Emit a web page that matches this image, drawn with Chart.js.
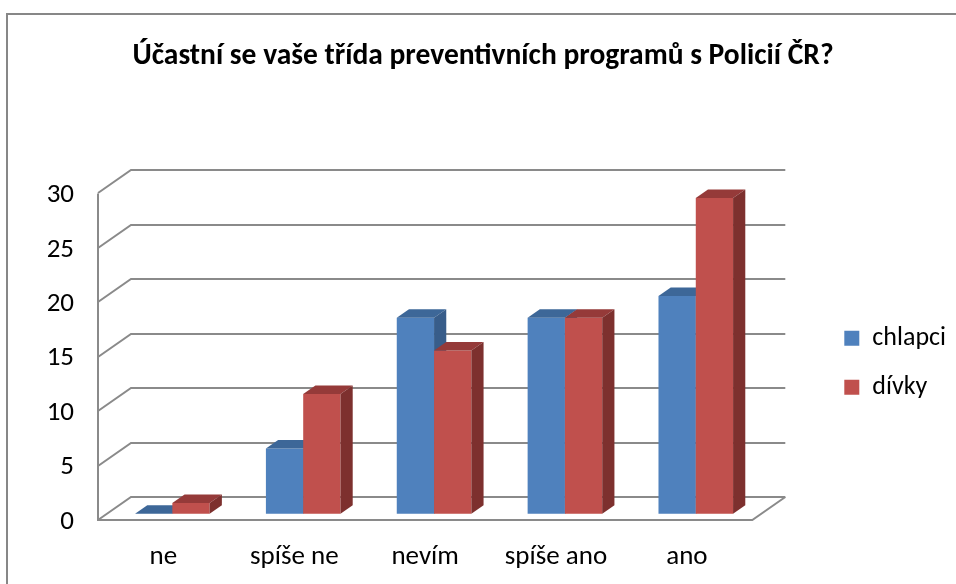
<!DOCTYPE html>
<html>
<head>
<meta charset="utf-8">
<script src="https://cdn.jsdelivr.net/npm/chart.js@4.4.0/dist/chart.umd.min.js"></script>
<style>
    html, body { margin: 0; padding: 0; background: #fff; }
</style>
</head>
<body>
<canvas id="myChart" width="956" height="584"></canvas>
<script>
    // data
    const categories = ["ne", "spíše ne", "nevím", "spíše ano", "ano"];
    const chlapci = [0, 6, 18, 18, 20];
    const divky = [1, 11, 15, 18, 29];
    const yTicks = [0, 5, 10, 15, 20, 25, 30];

    const FONT = "Carlito, Lato, sans-serif";
    const DEPTH = { x: 33, y: -23 };   // back wall offset
    const BAR_FRONT = 0.27;            // where bars start inside the depth
    const BAR_DEPTH = 0.37;
    const faces = [
        { front: "#4F81BD", top: "#3D6798", side: "#385D8A" },
        { front: "#C0504D", top: "#953A39", side: "#7D302E" },
    ];

    function poly(ctx, pts, color) {
        ctx.beginPath();
        ctx.moveTo(pts[0][0], pts[0][1]);
        for (let i = 1; i < pts.length; i++) ctx.lineTo(pts[i][0], pts[i][1]);
        ctx.closePath();
        ctx.fillStyle = color;
        ctx.fill();
    }

    // walls, floor and 3d bars
    const frame3d = {
        id: "frame3d",
        beforeDraw(chart) {
            const ctx = chart.ctx;
            ctx.save();
            ctx.fillStyle = "#fff";
            ctx.fillRect(0, 0, chart.width, chart.height);
            ctx.strokeStyle = "#878787";
            ctx.lineWidth = 2;
            ctx.strokeRect(7, 14, chart.width + 20, chart.height + 20);
            ctx.restore();
        },
        beforeDatasetsDraw(chart) {
            const ctx = chart.ctx;
            const a = chart.chartArea;
            const y = chart.scales.y;
            ctx.save();
            ctx.strokeStyle = "#8a8a8a";
            ctx.lineWidth = 2;
            yTicks.forEach(function (v) {
                const py = Math.round(y.getPixelForValue(v));
                ctx.beginPath();
                ctx.moveTo(a.left, py);
                ctx.lineTo(a.left + DEPTH.x, py + DEPTH.y);
                ctx.lineTo(a.right + DEPTH.x, py + DEPTH.y);
                ctx.stroke();
            });
            // front axis + floor
            ctx.beginPath();
            ctx.moveTo(a.left, a.top);
            ctx.lineTo(a.left, a.bottom);
            ctx.lineTo(a.right, a.bottom);
            ctx.lineTo(a.right + DEPTH.x, a.bottom + DEPTH.y);
            ctx.stroke();

            const ox = DEPTH.x * BAR_FRONT, oy = DEPTH.y * BAR_FRONT;
            const dx = DEPTH.x * BAR_DEPTH, dy = DEPTH.y * BAR_DEPTH;
            for (let i = 0; i < categories.length; i++) {
                chart.data.datasets.forEach(function (ds, d) {
                    const bar = chart.getDatasetMeta(d).data[i];
                    const c = faces[d];
                    const l = bar.x - bar.width / 2 + ox, r = bar.x + bar.width / 2 + ox;
                    const t = bar.y + oy, b = bar.base + oy;
                    poly(ctx, [[l, t], [r, t], [r, b], [l, b]], c.front);
                    poly(ctx, [[l, t], [r, t], [r + dx, t + dy], [l + dx, t + dy]], c.top);
                    poly(ctx, [[r, t], [r + dx, t + dy], [r + dx, b + dy], [r, b]], c.side);
                });
            }
            ctx.restore();
            return false;
        },
    };

    const ctx = document.getElementById("myChart");
    new Chart(ctx, {
        type: "bar",
        data: {
            labels: categories,
            datasets: [
                { label: "chlapci", data: chlapci, backgroundColor: faces[0].front },
                { label: "dívky", data: divky, backgroundColor: faces[1].front },
            ],
        },
        options: {
            responsive: false,
            animation: false,
            events: [],
            layout: {
                padding: { left: 10, top: 0, right: 0, bottom: 0 },
            },
            datasets: {
                bar: { barPercentage: 1, categoryPercentage: 0.57 },
            },
            plugins: {
                tooltip: { enabled: false },
                title: {
                    display: true,
                    text: "Účastní se vaše třída preventivních programů s Policií ČR?",
                    color: "#000",
                    font: { family: FONT, size: 29.5, weight: "bold" },
                    padding: { top: 39, bottom: 119 },
                },
                legend: {
                    position: "right",
                    fullSize: false,
                    title: { display: true, text: "", font: { size: 10 }, padding: 0 },
                    labels: {
                        color: "#000",
                        font: { family: FONT, size: 26 },
                        boxWidth: 15,
                        boxHeight: 15,
                        padding: 23,
                    },
                },
            },
            scales: {
                x: {
                    grid: { display: false, drawTicks: false },
                    border: { display: false },
                    ticks: {
                        color: "#000",
                        font: { family: FONT, size: 27 },
                        padding: 21,
                        maxRotation: 0,
                    },
                    afterFit: function (s) { s.height = 64; },
                },
                y: {
                    min: 0,
                    max: 30,
                    grid: { display: false, drawTicks: false },
                    border: { display: false },
                    ticks: {
                        stepSize: 5,
                        color: "#000",
                        font: { family: FONT, size: 27 },
                        padding: 24,
                        labelOffset: 2,
                    },
                    afterFit: function (s) { s.width = 88; },
                },
                gap: {
                    position: "right",
                    display: true,
                    grid: { display: false, drawTicks: false },
                    border: { display: false },
                    ticks: { display: false },
                    afterFit: function (s) { s.width = 69; },
                },
            },
        },
        plugins: [frame3d],
    });
</script>
</body>
</html>
